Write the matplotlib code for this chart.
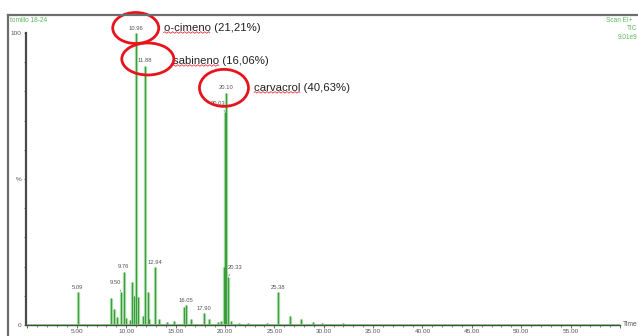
import numpy as np
import matplotlib
matplotlib.use("Agg")
import matplotlib.pyplot as plt
from matplotlib.patches import Ellipse
from matplotlib.lines import Line2D
from matplotlib.ticker import MultipleLocator, FixedLocator, FixedFormatter
from matplotlib import transforms

# TIC chromatogram, thyme essential oil (tomillo 18-24)
# retention time (min) and relative abundance (%) of each peak
peak_times = [5.09, 8.45, 8.72, 9.10, 9.50, 9.76, 9.95, 10.37, 10.60, 10.75,
              10.96, 11.15, 11.70, 11.88, 12.17, 12.30, 12.94, 13.30, 14.10,
              14.80, 15.85, 16.05, 16.55, 17.90, 18.40, 19.30, 19.55, 19.85,
              20.03, 20.10, 20.33, 20.60, 21.40, 22.30, 23.60, 24.30, 25.38,
              26.60, 27.70, 28.90, 29.80, 30.70, 31.90, 33.00, 34.20]
peak_heights = [11.3, 9.2, 5.5, 2.7, 11.3, 18.2, 2.5, 1.8, 14.6, 10.0,
                100.0, 9.5, 3.0, 88.7, 11.3, 2.0, 19.7, 2.0, 1.0,
                1.5, 6.0, 6.8, 2.0, 4.1, 2.2, 1.0, 1.2, 20.0,
                73.0, 79.5, 16.6, 1.5, 0.8, 0.6, 0.5, 0.7, 11.3,
                3.0, 2.0, 1.0, 0.6, 0.5, 0.6, 0.5, 0.4]

# peaks that carry a retention-time label
labelled_times = [5.09, 9.50, 9.76, 10.96, 11.88, 12.94, 16.05, 17.90,
                  20.03, 20.10, 20.33, 25.38]

# identified compounds and their area percentage
compound_names = ["o-cimeno", "sabineno", "carvacrol"]
compound_times = [10.96, 11.88, 20.10]
compound_area = [21.21, 16.06, 40.63]

DPI = 100
W, H = 638, 336
GREEN = "#3a9e3a"
HALO = "#b3e0b3"
GRAY = "#555555"
FONT = "Liberation Sans"

fig = plt.figure(figsize=(W / DPI, H / DPI), dpi=DPI)
fig.patch.set_facecolor("white")

# plot area in pixels: left 26, right 620, baseline 325, 100% at 33
ax = fig.add_axes([26 / W, (H - 325) / H, (620 - 26) / W, 292 / H])
ax.set_xlim(-0.15, 60)
ax.set_ylim(0, 100)
ax.patch.set_alpha(0)

for s in ("top", "right"):
    ax.spines[s].set_visible(False)
ax.spines["left"].set_color("#4a4a4a")
ax.spines["left"].set_linewidth(1.6)
ax.spines["bottom"].set_color("#4a4a4a")
ax.spines["bottom"].set_linewidth(1.0)

# peaks: light halo plus darker core
ax.vlines(peak_times, 0, peak_heights, color=HALO, lw=2.4, zorder=2)
ax.vlines(peak_times, 0, peak_heights, color=GREEN, lw=0.9, zorder=3)
ax.axhline(0, color="#6cbf6c", lw=1.2, zorder=3, xmin=0.003)

# axis ticks
ax.xaxis.set_major_locator(MultipleLocator(5))
ax.xaxis.set_minor_locator(MultipleLocator(1))
ax.xaxis.set_major_formatter(lambda v, p: "" if v <= 0 or v >= 60 else f"{v:.2f}")
ax.tick_params(axis="x", which="major", direction="out", length=2.2, width=0.6,
               color=GRAY, labelsize=4.6, labelcolor=GRAY, pad=0.4)
ax.tick_params(axis="x", which="minor", direction="out", length=1.6, width=0.5,
               color=GRAY)
ax.yaxis.set_major_locator(FixedLocator(np.arange(0, 101, 10)))
ax.yaxis.set_major_formatter(FixedFormatter(["0", "", "", "", "", "%", "", "", "", "", "100"]))
ax.tick_params(axis="y", direction="out", length=1.5, width=0.6, color=GRAY,
               labelsize=4.6, labelcolor=GRAY, pad=1.5)
for lbl in ax.get_xticklabels() + ax.get_yticklabels():
    lbl.set_fontfamily(FONT)

ax.annotate("Time", xy=(1, 0), xycoords="axes fraction", xytext=(2, 0),
            textcoords="offset points", va="center", ha="left",
            fontsize=4.8, color=GRAY, family=FONT)

# retention-time labels above the peaks
lookup = dict(zip(peak_times, peak_heights))
leader_offsets = {9.50: (-4.2, 6.5), 20.03: (-5.5, 6.0), 20.33: (5.2, 6.5)}
for t in labelled_times:
    h = lookup[t]
    if t in leader_offsets:
        ax.annotate(f"{t:.2f}", xy=(t, h), xytext=leader_offsets[t],
                    textcoords="offset points", ha="center", va="center",
                    fontsize=4.2, color=GRAY, family=FONT, annotation_clip=False,
                    arrowprops=dict(arrowstyle="-", lw=0.4, color=GRAY,
                                    shrinkA=1.5, shrinkB=0.5))
    else:
        ax.annotate(f"{t:.2f}", xy=(t, h), xytext=(0, 3.6),
                    textcoords="offset points", ha="center", va="center",
                    fontsize=4.2, color=GRAY, family=FONT, annotation_clip=False)

# red circles around the identified peaks and their names
ellipse_sizes = [(46, 31), (52, 32), (49, 37)]
ellipse_shift = [(0, 0), (3, 2), (-2, 0)]
name_texts = []
for name, t, area, (ew, eh), (sx, sy) in zip(compound_names, compound_times,
                                              compound_area, ellipse_sizes,
                                              ellipse_shift):
    h = lookup[t]
    trans = fig.dpi_scale_trans + transforms.ScaledTranslation(t, h, ax.transData)
    ell = Ellipse((sx / DPI, (5 + sy) / DPI), ew / DPI, eh / DPI,
                  transform=trans, fill=False, ec="#e8141c", lw=2.0,
                  clip_on=False, zorder=5)
    ax.add_patch(ell)
    label = f"{name} ({area:.2f}%)".replace(".", ",")
    txt = ax.annotate(label, xy=(t, h), xytext=(28 * 72 / DPI, 5 * 72 / DPI),
                      textcoords="offset points", ha="left", va="center",
                      fontsize=8.2, color="#222222", family=FONT,
                      annotation_clip=False)
    name_texts.append((txt, name))

# frame and header
fig.add_artist(Line2D([8 / W, 1], [1 - 15 / H, 1 - 15 / H], color="#6e6e6e", lw=1.6))
fig.add_artist(Line2D([8 / W, 8 / W], [0, 1 - 15 / H], color="#6e6e6e", lw=1.6))
fig.text(10 / W, 1 - 20.5 / H, "tomillo 18-24", color="#5cb85c", fontsize=4.7,
         family=FONT, va="center", ha="left")
fig.text(633 / W, 1 - 20.5 / H, "Scan EI+", color="#5cb85c", fontsize=4.7,
         family=FONT, va="center", ha="right")
fig.text(637 / W, 1 - 29 / H, "TIC", color="#5cb85c", fontsize=4.7,
         family=FONT, va="center", ha="right")
fig.text(637 / W, 1 - 37.5 / H, "9.01e9", color="#5cb85c", fontsize=4.7,
         family=FONT, va="center", ha="right")

# wavy spell-check underline under each compound name
fig.canvas.draw()
renderer = fig.canvas.get_renderer()
for txt, name in name_texts:
    bb = txt.get_window_extent(renderer)
    probe = fig.text(0, 0, name, fontsize=8.2, family=FONT)
    name_w = probe.get_window_extent(renderer).width
    probe.remove()
    xs = np.arange(bb.x0, bb.x0 + name_w, 1.0)
    ys = bb.y0 + 0.5 + np.tile([0, 0.8, 0, -0.8], len(xs) // 4 + 1)[:len(xs)]
    fig.add_artist(Line2D(xs, ys, transform=transforms.IdentityTransform(),
                          color="#e8141c", lw=0.5))

fig.savefig("out.png", dpi=DPI)
